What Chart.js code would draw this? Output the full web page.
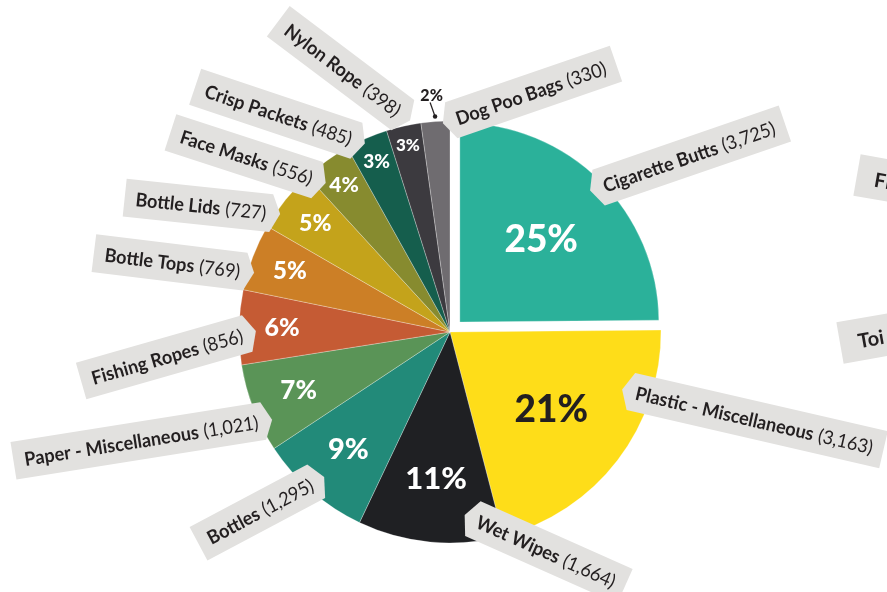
<!DOCTYPE html>
<html>
<head>
<meta charset="utf-8">
<script src="https://cdn.jsdelivr.net/npm/chart.js@4.4.1/dist/chart.umd.min.js"></script>
<style>
  html, body { margin: 0; padding: 0; background: #fff; }
  #wrap { position: relative; width: 887px; height: 592px; }
</style>
</head>
<body>
<div id="wrap"><canvas id="litter"></canvas></div>
<script>
// items found, biggest first (clockwise from 12 o'clock)
const categories = ['Cigarette Butts', 'Plastic - Miscellaneous', 'Wet Wipes', 'Bottles',
  'Paper - Miscellaneous', 'Fishing Ropes', 'Bottle Tops', 'Bottle Lids', 'Face Masks',
  'Crisp Packets', 'Nylon Rope', 'Dog Poo Bags'];
const counts = [3725, 3163, 1664, 1295, 1021, 856, 769, 727, 556, 485, 398, 330];

const sliceColors = ['#2bb19a', '#fedd19', '#1f2023', '#228a79', '#5a9457', '#c55b34',
  '#cc7f26', '#c4a31b', '#878b2f', '#155e4d', '#3c3a3f', '#6f6c70'];

// label strips: tilt (deg), nudge of the tip round the slice (deg), tip distance (share of radius), side
const calloutTilt  = [-19, 13, 24, -28, -9, -16, 7, 6, 18, 18.5, 37, -19];
const calloutNudge = [0, -19, -10, 0, -5, -1, -4, -4, -4, -1, 2, 2];
const calloutReach = [0.93, 0.86, 0.87, 0.91, 0.94, 0.92, 0.97, 0.98, 0.92, 0.98, 1.02, 0.99];
const calloutSide  = [1, 1, 1, -1, -1, -1, -1, -1, -1, -1, -1, 1];

// strips belonging to the next panel, cut by the page edge
const nextPanelLabels = ['Fi', 'Toi'];

const RADIUS = 211;
const PULL = 14;           // how far the first slice is pulled out
const total = counts.reduce((s, v) => s + v, 0);
const fmt = (v) => v.toLocaleString('en-GB');
const rad = (d) => d * Math.PI / 180;

const STRIP = '#e2e1df';
const INK = '#231f20';
const LABEL_PX = 19;
const SQUEEZE = 0.95;      // labels are set a touch narrow

function sliceCentre(arc, i) {
  const mid = (arc.startAngle + arc.endAngle) / 2;
  const push = i === 0 ? PULL : 0;
  return { x: arc.x + Math.cos(mid) * push, y: arc.y + Math.sin(mid) * push, mid };
}

const shrinkFirst = {
  id: 'shrinkFirst',
  afterDatasetUpdate(chart) {
    const arc = chart.getDatasetMeta(0).data[0];
    if (arc) arc.outerRadius = RADIUS - 12;
  }
};

const percentLabels = {
  id: 'percentLabels',
  afterDatasetsDraw(chart) {
    const { ctx } = chart;
    const arcs = chart.getDatasetMeta(0).data;
    ctx.save();
    ctx.textAlign = 'center';
    ctx.textBaseline = 'middle';
    arcs.forEach((arc, i) => {
      const frac = counts[i] / total;
      const pct = Math.round(frac * 100) + '%';
      const c = sliceCentre(arc, i);
      if (frac < 0.025) {
        // too thin: put it above with a pointer
        const a = c.mid;
        const R = arc.outerRadius;
        const dot = { x: c.x + Math.cos(a) * (R + 5), y: c.y + Math.sin(a) * (R + 5) };
        ctx.strokeStyle = INK; ctx.fillStyle = INK; ctx.lineWidth = 1.2;
        ctx.beginPath();
        ctx.moveTo(c.x + Math.cos(a) * (R + 19) - 4, c.y + Math.sin(a) * (R + 19));
        ctx.lineTo(dot.x, dot.y);
        ctx.stroke();
        ctx.beginPath();
        ctx.arc(dot.x, dot.y, 2.2, 0, Math.PI * 2);
        ctx.fill();
        ctx.font = '900 16px Lato';
        ctx.fillText(pct, c.x + Math.cos(a) * (R + 26) - 2, c.y + Math.sin(a) * (R + 26));
        return;
      }
      const f = 0.58 + 0.146 * Math.log(0.25 / frac);
      const size = Math.round(37 - 9.5 * Math.max(0, Math.log(0.21 / frac)));
      const r = arc.outerRadius * f;
      ctx.font = `900 ${size}px Lato`;
      ctx.fillStyle = sliceColors[i] === '#fedd19' ? INK : '#ffffff';
      ctx.fillText(pct, c.x + Math.cos(c.mid) * r, c.y + Math.sin(c.mid) * r);
    });
    ctx.restore();
  }
};

function strip(ctx, x, y, tiltDeg, side, name, count, h = 38) {
  ctx.save();
  ctx.translate(x, y);
  ctx.rotate(rad(tiltDeg));
  ctx.font = `700 ${LABEL_PX}px Lato`;
  const wName = ctx.measureText(name).width * SQUEEZE;
  ctx.font = `400 ${LABEL_PX}px Lato`;
  const wNum = count ? ctx.measureText(count).width * SQUEEZE : 0;
  const gap = count ? 5 : 0;
  const a = 9, pad = 5, tail = 11;
  const L = a + pad + wName + gap + wNum + tail;
  const s = side;
  ctx.fillStyle = STRIP;
  ctx.beginPath();
  ctx.moveTo(0, 0);
  ctx.lineTo(s * a, -h / 2);
  ctx.lineTo(s * L, -h / 2);
  ctx.lineTo(s * L, h / 2);
  ctx.lineTo(s * a, h / 2);
  ctx.closePath();
  ctx.fill();
  ctx.fillStyle = INK;
  ctx.textBaseline = 'middle';
  ctx.textAlign = 'left';
  const x0 = s > 0 ? a + pad : -(a + pad + wName + gap + wNum);
  ctx.translate(x0, 1);
  ctx.scale(SQUEEZE, 1);
  ctx.font = `700 ${LABEL_PX}px Lato`;
  ctx.fillText(name, 0, 0);
  if (count) {
    ctx.font = `400 ${LABEL_PX}px Lato`;
    ctx.fillText(count, (wName + gap) / SQUEEZE, 0);
  }
  ctx.restore();
}

const callouts = {
  id: 'callouts',
  afterDraw(chart) {
    const { ctx } = chart;
    const arcs = chart.getDatasetMeta(0).data;
    arcs.forEach((arc, i) => {
      const c = sliceCentre(arc, i);
      const a = c.mid + rad(calloutNudge[i]);
      const r = arc.outerRadius * calloutReach[i];
      strip(ctx, c.x + Math.cos(a) * r, c.y + Math.sin(a) * r, calloutTilt[i], calloutSide[i],
        categories[i], '(' + fmt(counts[i]) + ')');
    });
    // neighbouring panel, mostly off the page
    [[857, 175, 10], [840, 343, -10]].forEach(([x, y, t], k) => {
      ctx.save();
      ctx.translate(x, y);
      ctx.rotate(rad(t));
      ctx.fillStyle = STRIP;
      ctx.fillRect(0, -21, 120, 42);
      ctx.fillStyle = INK;
      ctx.font = '700 20px Lato';
      ctx.textBaseline = 'middle';
      ctx.fillText(nextPanelLabels[k], 18, 2);
      ctx.restore();
    });
  }
};

new Chart(document.getElementById('litter'), {
  type: 'pie',
  data: {
    labels: categories,
    datasets: [{
      data: counts,
      backgroundColor: sliceColors,
      borderColor: 'rgba(255,255,255,0.35)',
      borderWidth: 0.8,
      offset: counts.map((_, i) => i === 0 ? PULL * 4 : 0)
    }]
  },
  options: {
    responsive: true,
    maintainAspectRatio: false,
    animation: false,
    radius: RADIUS,
    layout: { padding: { left: 13, top: 72, right: 0, bottom: 0 } },
    plugins: { legend: { display: false }, tooltip: { enabled: false } }
  },
  plugins: [shrinkFirst, percentLabels, callouts]
});
</script>
</body>
</html>
